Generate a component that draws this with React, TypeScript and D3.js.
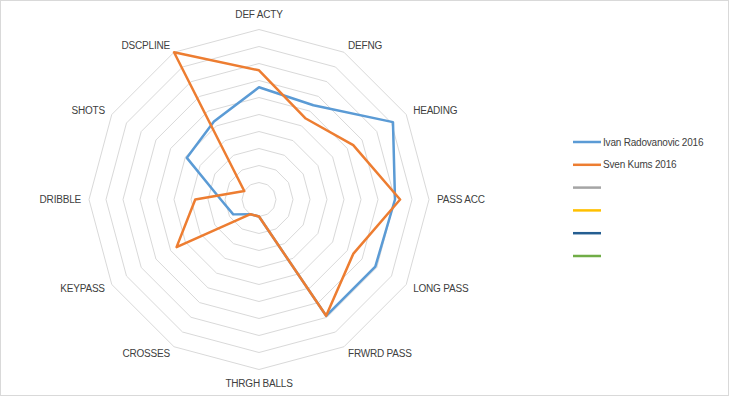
import React, { useEffect, useRef } from 'react';
import * as d3 from 'd3';

// axis labels, clockwise from the top
const categories = ['DEF ACTY', 'DEFNG', 'HEADING', 'PASS ACC', 'LONG PASS', 'FRWRD PASS',
    'THRGH BALLS', 'CROSSES', 'KEYPASS', 'DRIBBLE', 'SHOTS', 'DSCPLINE'];

const ivanValues = [6.6, 6.4, 9.1, 8.0, 7.9, 7.9, 1.0, 1.0, 1.75, 2.25, 4.9, 5.3];
const svenValues = [7.6, 5.5, 6.4, 8.3, 6.4, 7.9, 1.0, 1.0, 5.6, 3.75, 1.0, 10.0];

const legendNames = ['Ivan Radovanovic 2016', 'Sven Kums 2016', '', '', '', ''];
const legendColors = ['#5B9BD5', '#ED7D31', '#A5A5A5', '#FFC000', '#255E91', '#70AD47'];

const ringLevels = [1, 2, 3, 4, 5, 6, 7, 8, 9, 10];

const App: React.FC = () => {
    const svgRef = useRef<SVGSVGElement | null>(null);

    useEffect(() => {
        const width = 730;
        const height = 397;
        const cx = 259;
        const cy = 199.5;
        const radius = 170;

        const svg = d3.select(svgRef.current);
        svg.selectAll('*').remove();
        svg.attr('width', width).attr('height', height);

        svg.append('rect')
            .attr('x', 0.5).attr('y', 0.5)
            .attr('width', width - 2).attr('height', height - 2)
            .attr('fill', '#ffffff')
            .attr('stroke', '#d9d9d9');

        const r = d3.scaleLinear().domain([0, 10]).range([0, radius]);
        const angle = d3.scalePoint<string>()
            .domain(categories)
            .range([0, 2 * Math.PI * (categories.length - 1) / categories.length]);

        const g = svg.append('g').attr('transform', `translate(${cx},${cy})`);

        const line = d3.lineRadial<number>()
            .angle((_, i) => angle(categories[i]) || 0)
            .radius(d => r(d))
            .curve(d3.curveLinearClosed);

        // gridline rings
        g.selectAll('.ring')
            .data(ringLevels)
            .enter().append('path')
            .attr('class', 'ring')
            .attr('d', lvl => line(categories.map(() => lvl)))
            .attr('fill', 'none')
            .attr('stroke', '#d9d9d9')
            .attr('stroke-width', 1);

        // category labels
        const labelR = radius + 8;
        g.selectAll('.cat')
            .data(categories)
            .enter().append('text')
            .attr('class', 'cat')
            .attr('x', d => labelR * Math.sin(angle(d) || 0))
            .attr('y', d => {
                const a = angle(d) || 0;
                const y = -labelR * Math.cos(a);
                if (Math.abs(Math.sin(a)) < 0.01) return y + (Math.cos(a) > 0 ? -7 : 6);
                return y;
            })
            .attr('text-anchor', d => {
                const s = Math.sin(angle(d) || 0);
                if (Math.abs(s) < 0.01) return 'middle';
                return s > 0 ? 'start' : 'end';
            })
            .attr('dominant-baseline', 'central')
            .attr('font-family', '"Liberation Sans", Arial, sans-serif')
            .attr('font-size', '10px')
            .attr('letter-spacing', '-0.2px')
            .attr('fill', '#404040')
            .text(d => d);

        // series
        const series = [
            { name: legendNames[0], values: ivanValues, color: legendColors[0] },
            { name: legendNames[1], values: svenValues, color: legendColors[1] }
        ];
        g.selectAll('.series')
            .data(series)
            .enter().append('path')
            .attr('class', 'series')
            .attr('d', d => line(d.values))
            .attr('fill', 'none')
            .attr('stroke', d => d.color)
            .attr('stroke-width', 2.5)
            .attr('stroke-linejoin', 'round');

        // legend
        const legend = svg.append('g').attr('transform', 'translate(573,142)');
        const item = legend.selectAll('.item')
            .data(legendNames)
            .enter().append('g')
            .attr('class', 'item')
            .attr('transform', (_, i) => `translate(0,${i * 22.8})`);
        item.append('line')
            .attr('x1', 0).attr('x2', 28)
            .attr('y1', 0).attr('y2', 0)
            .attr('stroke', (_, i) => legendColors[i])
            .attr('stroke-width', 2.5);
        item.append('text')
            .attr('x', 30)
            .attr('y', 0)
            .attr('dominant-baseline', 'central')
            .attr('font-family', '"Liberation Sans", Arial, sans-serif')
            .attr('font-size', '10px')
            .attr('letter-spacing', '-0.2px')
            .attr('fill', '#404040')
            .text(d => d);
    }, []);

    return (
        <div style={{ position: 'fixed', left: 0, top: 0 }}>
            <svg ref={svgRef}></svg>
        </div>
    );
};

export default App;
